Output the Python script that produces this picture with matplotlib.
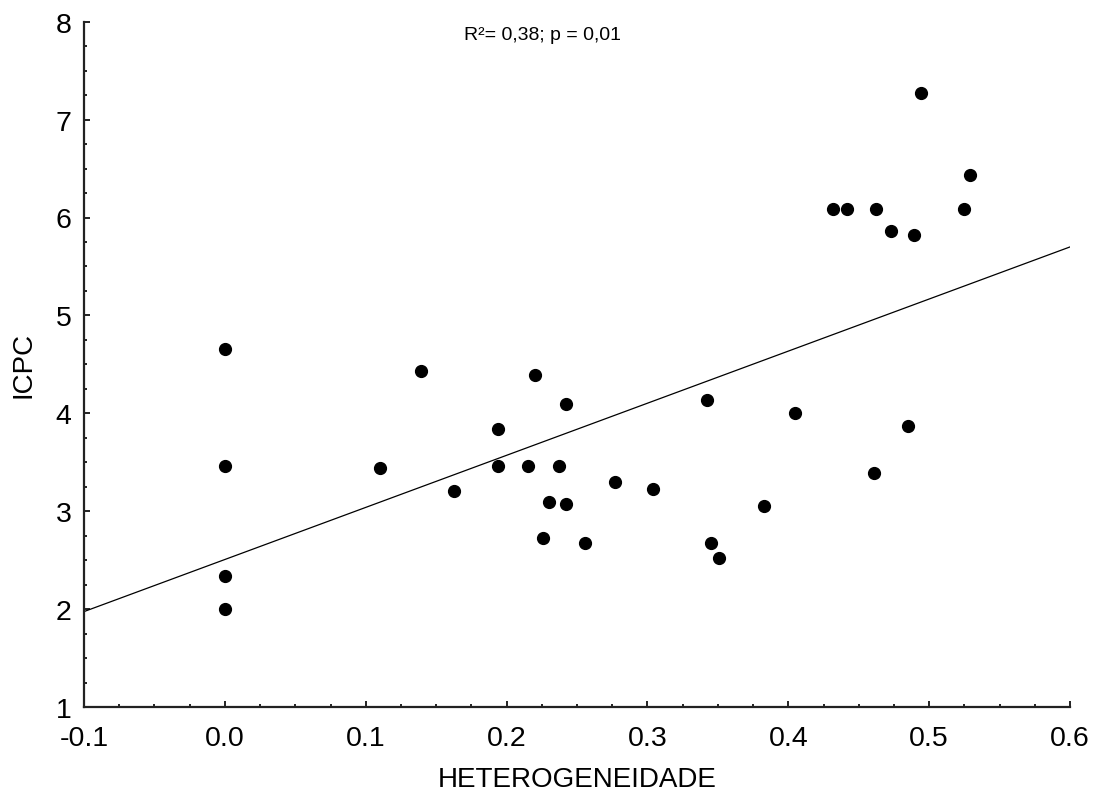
import numpy as np
import matplotlib
matplotlib.use("Agg")
import matplotlib.pyplot as plt
from matplotlib.ticker import MultipleLocator, FormatStrFormatter

plt.rcParams['font.family'] = ['Liberation Sans', 'DejaVu Sans']

heterogeneidade = [0.0, 0.0, 0.0, 0.0,
                   0.110, 0.139, 0.163, 0.194, 0.194, 0.215, 0.220, 0.226,
                   0.230, 0.237, 0.242, 0.242, 0.256, 0.277, 0.304,
                   0.342, 0.345, 0.351, 0.383, 0.405,
                   0.432, 0.442, 0.461, 0.462, 0.473, 0.485, 0.489, 0.494,
                   0.525, 0.529]
icpc = [4.66, 3.46, 2.34, 2.00,
        3.44, 4.43, 3.21, 3.84, 3.46, 3.46, 4.39, 2.73,
        3.09, 3.46, 4.09, 3.07, 2.68, 3.30, 3.23,
        4.14, 2.68, 2.52, 3.05, 4.00,
        6.09, 6.09, 3.39, 6.09, 5.86, 3.87, 5.82, 7.27,
        6.09, 6.43]
annotation = "R²= 0,38; p = 0,01"
xlabel = "HETEROGENEIDADE"
ylabel = "ICPC"

fig = plt.figure(figsize=(11, 8.03), dpi=100)
ax = fig.add_axes([84/1100, 1 - 708/803, (1070-84)/1100, (708-22.7)/803])

x = np.array(heterogeneidade)
y = np.array(icpc)
slope, intercept = np.polyfit(x, y, 1)
xl = np.array([-0.1, 0.6])
ax.plot(xl, intercept + slope * xl, color='black', lw=0.9)
ax.plot(x, y, 'o', color='black', markersize=8.5, clip_on=False)

ax.set_xlim(-0.1, 0.6)
ax.set_ylim(1, 8)
ax.xaxis.set_major_locator(MultipleLocator(0.1))
ax.xaxis.set_minor_locator(MultipleLocator(0.025))
ax.yaxis.set_major_locator(MultipleLocator(1))
ax.yaxis.set_minor_locator(MultipleLocator(0.25))
ax.xaxis.set_major_formatter(FormatStrFormatter('%.1f'))
ax.yaxis.set_major_formatter(FormatStrFormatter('%d'))

for s in ['top', 'right']:
    ax.spines[s].set_visible(False)
for s in ['left', 'bottom']:
    ax.spines[s].set_linewidth(1.6)
    ax.spines[s].set_color('#222222')

ax.tick_params(which='major', direction='in', length=4, width=1.4, labelsize=20.5, colors='#222222')
ax.tick_params(which='minor', direction='in', length=2.3, width=1.4, colors='#222222')
ax.tick_params(axis='x', which='major', pad=13)
ax.tick_params(axis='y', which='major', pad=9)
for lab in ax.get_xticklabels() + ax.get_yticklabels():
    lab.set_color('black')

ax.set_xlabel(xlabel, fontsize=20, labelpad=11)
ax.set_ylabel(ylabel, fontsize=20, labelpad=14)

fig.text(543/1100, 1 - 36/803, annotation, fontsize=14, ha='center', va='center')

fig.savefig("out.png", dpi=100)
